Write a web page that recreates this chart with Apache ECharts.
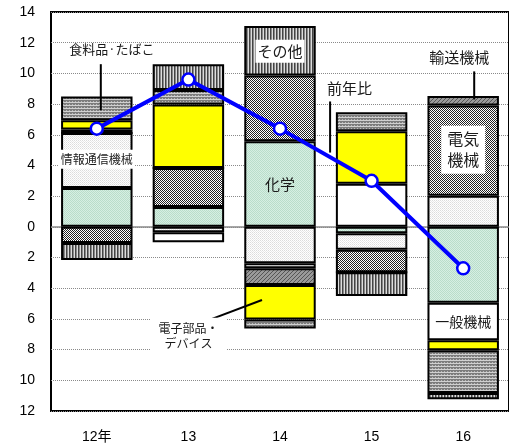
<!DOCTYPE html>
<html>
<head>
<meta charset="utf-8">
<script src="https://cdn.jsdelivr.net/npm/echarts@6/dist/echarts.min.js"></script>
<style>
  html, body { margin: 0; padding: 0; background: #fff; }
  #chart { width: 509px; height: 444px; }
</style>
</head>
<body>
<div id="chart"></div>
<script>
// Year categories
const categories = ['12年', '13', '14', '15', '16'];

// Contribution of each industry (percentage points), stacked in this order
const kagaku   = [2.53, 1.29, 5.58, -0.41, -4.95];   // 化学
const johoTsushin = [3.59, -0.35, -2.37, -1.09, 2.03]; // 情報通信機械
const ippanKikai = [0, -0.65, -0.33, 2.81, -2.44];   // 一般機械
const denkiKikai = [-1.05, 2.54, 4.29, -1.46, 5.88]; // 電気機械
const yusoKikai  = [0.22, 0, -1.09, 0, 0.61];         // 輸送機械
const denshiBuhin = [0.6, 4.14, -2.24, 3.42, -0.65];  // 電子部品・デバイス
const shokuryo   = [1.55, 0.94, -0.59, 1.24, -2.79];  // 食料品・たばこ
const sonota     = [-1.11, 1.68, 3.22, -1.55, -0.41]; // その他

// Total year-on-year change (前年比)
const yoy = [6.4, 9.6, 6.4, 3.0, -2.7];

// Value axis range
const yMin = -12, yMax = 14, yStep = 2;

const FONT = '"Liberation Sans", Arial, "Noto Sans CJK JP", sans-serif';
const JFONT = '"Noto Sans CJK JP", "Liberation Sans", sans-serif';

// Small repeating fill patterns
function pattern(w, h, draw) {
  const c = document.createElement('canvas');
  c.width = w; c.height = h;
  const g = c.getContext('2d');
  draw(g, w, h);
  return { image: c, repeat: 'repeat' };
}
function px(g, color, x, y) { g.fillStyle = color; g.fillRect(x, y, 1, 1); }

const fills = {
  kagaku: pattern(2, 2, g => {
    g.fillStyle = '#d6efe3'; g.fillRect(0, 0, 2, 2);
    px(g, '#b9ddca', 0, 0); px(g, '#b9ddca', 1, 1);
  }),
  joho: pattern(2, 2, g => {
    g.fillStyle = '#ffffff'; g.fillRect(0, 0, 2, 2);
    px(g, '#dcdcdc', 0, 0); px(g, '#e8e8e8', 1, 1);
  }),
  ippan: '#ffffff',
  denki: pattern(2, 2, g => {
    g.fillStyle = '#ffffff'; g.fillRect(0, 0, 2, 2);
    px(g, '#222222', 0, 0); px(g, '#222222', 1, 1);
  }),
  yuso: pattern(4, 4, g => {
    g.fillStyle = '#9a9a9a'; g.fillRect(0, 0, 4, 4);
    for (let i = 0; i < 4; i++) px(g, '#555555', i, 3 - i);
  }),
  denshi: '#ffff00',
  shokuryo: pattern(3, 3, g => {
    g.fillStyle = '#7c7c7c'; g.fillRect(0, 0, 3, 3);
    g.fillStyle = '#d0d0d0'; g.fillRect(0, 0, 3, 1);
    px(g, '#bbbbbb', 0, 2);
  }),
  sonota: pattern(3, 3, g => {
    g.fillStyle = '#444444'; g.fillRect(0, 0, 1, 3);
    g.fillStyle = '#8a8a8a'; g.fillRect(1, 0, 1, 3);
    g.fillStyle = '#dddddd'; g.fillRect(2, 0, 1, 3);
  })
};

function barSeries(name, data, fill) {
  return {
    name, type: 'bar', stack: 'total', data,
    barWidth: '78%',
    itemStyle: { color: fill, borderColor: '#000', borderWidth: 2 },
    z: 2
  };
}

const chart = echarts.init(document.getElementById('chart'), null, { renderer: 'canvas' });

chart.setOption({
  animation: false,
  grid: {
    left: 51, right: -1, top: 12, bottom: 33,
    show: true, borderColor: '#000', borderWidth: 2, backgroundColor: 'transparent'
  },
  xAxis: {
    type: 'category', data: categories,
    axisLine: { show: false }, axisTick: { show: false },
    axisLabel: { color: '#000', fontSize: 14, fontFamily: FONT, margin: 19 }
  },
  yAxis: {
    type: 'value', min: yMin, max: yMax, interval: yStep,
    axisLine: { show: false }, axisTick: { show: false },
    axisLabel: {
      color: '#000', fontSize: 14, fontFamily: FONT, margin: 16,
      formatter: v => String(Math.abs(v))
    },
    splitLine: { lineStyle: { color: '#8a8a8a', type: [1, 1], width: 1 } }
  },
  series: [
    Object.assign(barSeries('化学', kagaku, fills.kagaku), {
      markLine: {
        silent: true, symbol: 'none', label: { show: false },
        lineStyle: { color: '#8a8a8a', type: 'solid', width: 1.5 },
        data: [{ yAxis: 0 }], z: 1
      }
    }),
    barSeries('情報通信機械', johoTsushin, fills.joho),
    barSeries('一般機械', ippanKikai, fills.ippan),
    barSeries('電気機械', denkiKikai, fills.denki),
    barSeries('輸送機械', yusoKikai, fills.yuso),
    barSeries('電子部品・デバイス', denshiBuhin, fills.denshi),
    barSeries('食料品・たばこ', shokuryo, fills.shokuryo),
    barSeries('その他', sonota, fills.sonota),
    {
      name: '前年比', type: 'line', data: yoy, z: 10,
      symbol: 'circle', symbolSize: 12,
      lineStyle: { color: '#0000ff', width: 4 },
      itemStyle: { color: '#ffffff', borderColor: '#0000ff', borderWidth: 2.5 }
    }
  ]
});

// Annotation texts and leader lines, anchored to (category index, value) plus a pixel nudge
const notes = [
  { text: '食料品·たばこ', cat: 0, val: 11.57, dx: 15, size: 13 },
  { text: '情報通信機械', cat: 0, val: 4.4, dx: 0, size: 12, box: true },
  { text: 'その他', cat: 2, val: 11.45, dx: 0, size: 15, box: true },
  { text: '化学', cat: 2, val: 2.75, dx: 0, size: 15 },
  { text: '前年比', cat: 3, val: 9.0, dx: -22, size: 15 },
  { text: '輸送機械', cat: 4, val: 11.05, dx: -4, size: 15 },
  { text: '電気\n機械', cat: 4, val: 5.03, dx: 0, size: 16, box: true, lh: 21, pad: [3, 6] },
  { text: '一般機械', cat: 4, val: -6.2, dx: 0, size: 14 },
  { text: '電子部品・\nデバイス', cat: 1, val: -7.09, dx: 0, size: 12, box: true, lh: 15, pad: [3, 8] }
];
const leaders = [
  { cat: 0, dx: 4, from: 10.6, toCat: 0, toDx: 4, to: 7.6 },
  { cat: 3, dx: -41.5, from: 8.17, toCat: 3, toDx: -41.5, to: 4.84 },
  { cat: 4, dx: 11, from: 10.13, toCat: 4, toDx: 11, to: 8.3 },
  { cat: 1, dx: 15, from: -6.21, toCat: 2, toDx: -18, to: -4.77 }
];

function toPx(cat, val) { return chart.convertToPixel({ gridIndex: 0 }, [cat, val]); }

const graphics = [];
leaders.forEach(l => {
  const a = toPx(l.cat, l.from), b = toPx(l.toCat, l.to);
  graphics.push({
    type: 'line', z: 20,
    shape: { x1: a[0] + l.dx, y1: a[1], x2: b[0] + l.toDx, y2: b[1] },
    style: { stroke: '#000', lineWidth: 2 }
  });
});
notes.forEach(n => {
  const p = toPx(n.cat, n.val);
  graphics.push({
    type: 'text', z: 30,
    x: p[0] + n.dx, y: p[1],
    style: {
      text: n.text,
      font: n.size + 'px ' + JFONT,
      fill: '#1a1a1a',
      align: 'center', verticalAlign: 'middle',
      lineHeight: n.lh || Math.round(n.size * 1.25),
      backgroundColor: n.box ? '#ffffff' : null,
      padding: n.box ? (n.pad || [2, 2]) : 0
    }
  });
});
chart.setOption({ graphic: graphics });
</script>
</body>
</html>
